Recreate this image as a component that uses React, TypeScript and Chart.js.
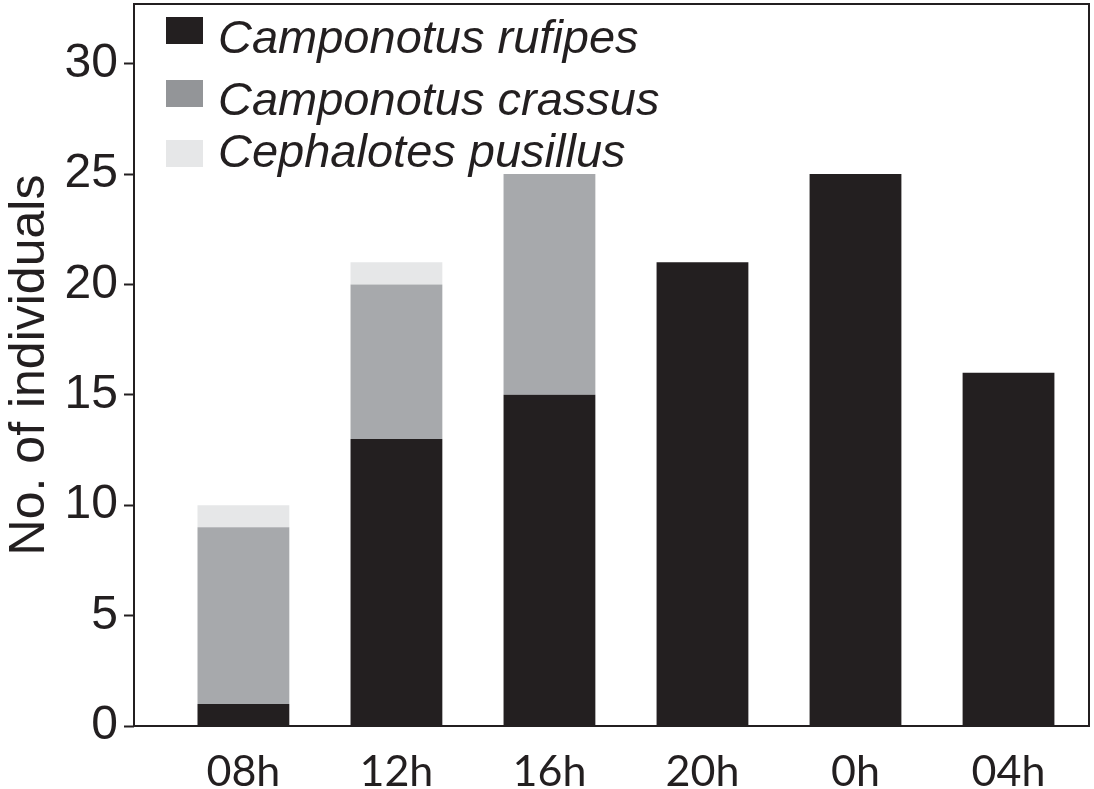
import React, { useEffect, useRef } from "react";
import { Chart, registerables } from "chart.js";

Chart.register(...registerables);

const hours = ["08h", "12h", "16h", "20h", "0h", "04h"];
const seriesNames = ["Camponotus rufipes", "Camponotus crassus", "Cephalotes pusillus"];
const rufipes = [1, 13, 15, 21, 25, 16];
const crassus = [8, 7, 10, 0, 0, 0];
const pusillus = [1, 1, 0, 0, 0, 0];
const yTicks = [0, 5, 10, 15, 20, 25, 30];

const barColors = ["#231f20", "#a7a9ac", "#e6e7e8"];
const legendColors = ["#231f20", "#939598", "#e6e7e8"];
const ink = "#231f20";

const frameAndLegend = {
  id: "frameAndLegend",
  afterDraw(chart: any) {
    const { ctx, chartArea } = chart;
    ctx.save();
    ctx.strokeStyle = ink;
    ctx.lineWidth = 2;
    ctx.strokeRect(chartArea.left, chartArea.top, chartArea.right - chartArea.left, chartArea.bottom - chartArea.top);
    const boxTops = [17, 80, 140];
    const baselines = [53, 115, 167];
    ctx.font = "italic 47px 'Liberation Sans', Arial, sans-serif";
    ctx.textBaseline = "alphabetic";
    ctx.textAlign = "left";
    chart.data.datasets.forEach((ds: any, i: number) => {
      ctx.fillStyle = legendColors[i];
      ctx.fillRect(166, boxTops[i], 37, 27);
      ctx.fillStyle = ink;
      ctx.fillText(ds.label, 218, baselines[i]);
    });
    ctx.restore();
  },
};

export default function App() {
  const ref = useRef<HTMLCanvasElement>(null);
  useEffect(() => {
    if (!ref.current) return;
    const series = [rufipes, crassus, pusillus];
    const chart = new Chart(ref.current, {
      type: "bar",
      data: {
        datasets: series.map((vals, s) => ({
          label: seriesNames[s],
          data: vals.map((v, i) => ({ x: i, y: v })),
          backgroundColor: barColors[s],
          borderWidth: 0,
          barPercentage: 0.6,
          categoryPercentage: 1,
        })),
      },
      options: {
        animation: false,
        responsive: false,
        maintainAspectRatio: false,
        layout: { padding: { left: 0, right: 5, top: 4, bottom: 0 } },
        plugins: { legend: { display: false }, tooltip: { enabled: false } },
        scales: {
          x: {
            type: "linear",
            stacked: true,
            offset: false,
            min: -0.715,
            max: 5.526,
            afterBuildTicks: (axis: any) => {
              axis.ticks = hours.map((_, i) => ({ value: i }));
            },
            afterFit: (scale: any) => {
              scale.height = 63;
              scale.paddingLeft = 0;
              scale.paddingRight = 0;
            },
            grid: { display: false, drawTicks: false },
            border: { display: false },
            ticks: {
              autoSkip: false,
              maxRotation: 0,
              padding: 20,
              color: ink,
              font: { family: "Lato, 'Open Sans', sans-serif", size: 43 },
              callback: (v: any) => hours[v] ?? "",
            },
          },
          y: {
            stacked: true,
            min: 0,
            max: 32.7,
            afterBuildTicks: (axis: any) => {
              axis.ticks = yTicks.map((v) => ({ value: v }));
            },
            afterFit: (scale: any) => {
              scale.width = 134;
              scale.paddingTop = 0;
              scale.paddingBottom = 0;
            },
            grid: {
              display: true,
              drawOnChartArea: false,
              drawTicks: true,
              tickLength: 10,
              tickWidth: 2,
              color: ink,
            },
            border: { display: false },
            ticks: {
              padding: 6,
              color: ink,
              font: { family: "'Liberation Sans', Arial, sans-serif", size: 48 },
            },
            title: {
              display: true,
              text: "No. of individuals",
              color: ink,
              padding: { top: 0, bottom: 0 },
              font: { family: "'Liberation Sans', Arial, sans-serif", size: 50 },
            },
          },
        },
      },
      plugins: [frameAndLegend],
    });
    return () => chart.destroy();
  }, []);
  return (
    <div style={{ position: "fixed", left: 0, top: 0, width: 1094, height: 789, background: "#fff" }}>
      <canvas ref={ref} width={1094} height={789} style={{ display: "block" }} />
    </div>
  );
}
